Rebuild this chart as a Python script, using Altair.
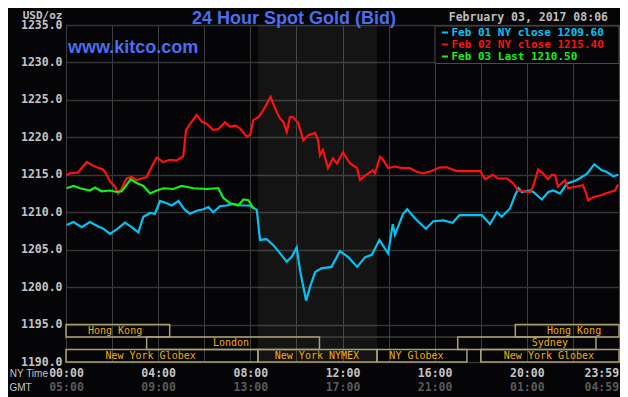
import altair as alt
import pandas as pd

# ---------------- data ----------------
series_labels = ["Feb 01 NY close 1209.60", "Feb 02 NY close 1215.40", "Feb 03 Last 1210.50"]
series_colors = ["#00c4f4", "#ff1010", "#14f014"]

cyan_hours = [0.03, 0.32, 0.68, 1.04, 1.40, 1.62, 1.91, 2.20, 2.56, 2.85, 3.14, 3.36, 3.65, 3.86, 4.08, 4.37,
              4.59, 4.88, 5.16, 5.38, 5.67, 5.96, 6.18, 6.39, 6.68, 6.97, 7.26, 7.62, 7.99, 8.28, 8.42, 8.71,
              9.00, 9.29, 9.58, 9.79, 10.01, 10.16, 10.42, 10.59, 10.81, 11.08, 11.52, 11.89, 12.25, 12.64,
              12.98, 13.27, 13.60, 13.98, 14.18, 14.28, 14.63, 14.81, 15.14, 15.62, 15.94, 16.38, 16.78,
              17.07, 18.05, 18.40, 18.70, 18.91, 19.27, 19.49, 19.64, 19.78, 20.14, 20.28, 20.65, 20.93,
              21.15, 21.44, 21.73, 22.17, 22.60, 22.93, 23.25, 23.46, 23.75, 23.97]
cyan_prices = [1208.3, 1208.7, 1208.0, 1208.7, 1208.1, 1207.8, 1207.1, 1207.7, 1208.6, 1208.0, 1207.3, 1209.4,
               1209.9, 1209.8, 1211.5, 1211.2, 1210.9, 1211.5, 1210.3, 1209.8, 1210.2, 1210.4, 1210.7, 1210.0,
               1210.8, 1210.9, 1211.1, 1210.9, 1210.9, 1210.3, 1206.3, 1206.4, 1205.6, 1204.5, 1203.4, 1204.0,
               1205.3, 1202.2, 1198.2, 1200.0, 1202.0, 1202.5, 1202.7, 1204.8, 1204.0, 1202.7, 1204.0, 1204.3,
               1206.3, 1204.5, 1208.4, 1207.0, 1209.8, 1210.4, 1209.2, 1207.8, 1208.8, 1208.9, 1208.6, 1209.6,
               1209.6, 1208.4, 1210.0, 1209.4, 1210.5, 1212.3, 1213.2, 1212.7, 1212.9, 1212.7, 1211.7, 1212.7,
               1212.9, 1212.5, 1213.8, 1214.3, 1215.1, 1216.4, 1215.6, 1215.4, 1214.8, 1215.0]

red_hours = [0.03, 0.17, 0.52, 0.90, 1.12, 1.33, 1.61, 1.77, 1.91, 2.13, 2.27, 2.42, 2.63, 2.85, 3.07, 3.29,
             3.50, 3.72, 3.94, 4.08, 4.22, 4.51, 4.80, 5.09, 5.21, 5.46, 5.67, 5.89, 6.11, 6.39, 6.61, 6.90,
             7.12, 7.34, 7.55, 7.84, 7.99, 8.13, 8.35, 8.56, 8.88, 9.07, 9.29, 9.43, 9.58, 9.72, 9.85, 10.08,
             10.30, 10.52, 10.81, 10.94, 11.02, 11.15, 11.37, 11.59, 11.76, 12.02, 12.33, 12.63, 12.76, 12.98,
             13.32, 13.41, 13.63, 13.76, 13.98, 14.28, 14.57, 14.93, 15.22, 15.49, 15.87, 16.23, 16.52, 16.96,
             17.97, 18.19, 18.53, 18.75, 19.13, 19.40, 19.62, 20.14, 20.27, 20.49, 20.70, 20.92, 21.08, 21.22,
             21.35, 21.66, 21.79, 22.09, 22.44, 22.53, 22.66, 22.87, 23.25, 23.61, 23.83, 23.96]
red_prices = [1214.95, 1215.2, 1215.3, 1216.7, 1216.3, 1216.0, 1215.7, 1215.0, 1214.1, 1213.4, 1212.5, 1213.2,
              1214.5, 1214.7, 1214.3, 1214.5, 1214.7, 1216.1, 1217.3, 1217.0, 1216.7, 1217.0, 1216.9, 1217.5,
              1221.0, 1222.1, 1223.0, 1222.1, 1221.8, 1221.0, 1221.1, 1222.0, 1221.4, 1221.6, 1221.2, 1220.1,
              1220.3, 1222.3, 1222.7, 1223.6, 1225.4, 1223.9, 1222.5, 1222.1, 1220.7, 1222.7, 1222.7, 1221.9,
              1219.6, 1220.3, 1220.6, 1219.6, 1217.6, 1218.3, 1215.9, 1217.2, 1216.5, 1218.0, 1216.5, 1215.9,
              1214.3, 1214.9, 1215.6, 1215.2, 1217.4, 1217.0, 1215.9, 1216.1, 1215.9, 1215.9, 1215.4, 1215.2,
              1215.5, 1216.0, 1216.0, 1215.5, 1215.5, 1214.4, 1215.0, 1214.5, 1214.5, 1213.9, 1212.9, 1212.7,
              1213.4, 1215.7, 1215.2, 1214.4, 1215.0, 1215.0, 1213.4, 1214.3, 1213.2, 1213.4, 1213.6, 1212.9,
              1211.6, 1212.0, 1212.3, 1212.7, 1212.9, 1213.7]

green_hours = [0.03, 0.32, 0.61, 1.04, 1.26, 1.55, 1.91, 2.20, 2.42, 2.81, 3.07, 3.36, 3.65, 3.94, 4.22, 4.66,
               5.02, 5.53, 6.11, 6.61, 6.83, 7.12, 7.48, 7.70, 7.92, 8.13]
green_prices = [1213.2, 1213.5, 1213.2, 1212.9, 1213.3, 1212.8, 1212.9, 1212.7, 1212.8, 1214.4, 1213.9, 1213.5,
                1212.5, 1212.9, 1213.2, 1213.1, 1213.5, 1213.2, 1213.1, 1213.2, 1211.9, 1211.2, 1210.9, 1211.7,
                1211.6, 1210.5]

session_names = ["Hong Kong", "Hong Kong", "London", "Sydney", "New York Globex", "New York NYMEX",
                 "NY Globex", "New York Globex"]
session_start = [0.0, 19.5, 3.5, 17.0, 0.0, 8.33, 13.5, 18.0]
session_end = [4.5, 24.0, 11.0, 23.0, 8.33, 13.5, 17.4, 24.0]
session_row = [0, 0, 1, 1, 2, 2, 2, 2]
session_label_at = [2.13, 22.05, 7.16, 21.0, 3.67, 10.89, 15.21, 20.96]

price_ticks = [1190, 1195, 1200, 1205, 1210, 1215, 1220, 1225, 1230, 1235]
grid_hours = [0, 2, 4, 6, 8, 10, 12, 14, 16, 18, 20, 22]
tick_hours = [0, 4, 8, 12, 16, 20, 23.983]
ny_labels = ["00:00", "04:00", "08:00", "12:00", "16:00", "20:00", "23:59"]
gmt_labels = ["05:00", "09:00", "13:00", "17:00", "21:00", "01:00", "04:59"]

title_text = "24 Hour Spot Gold (Bid)"
site_text = "www.kitco.com"
date_text = "February 03, 2017 08:06"

# ---------------- styling ----------------
W, H = 553, 337
BG = "#050407"
MONO = "DejaVu Sans Mono"
SANS = "Liberation Sans"
LIGHT = "#c4c4c4"
DIM = "#5a5a5a"
BLUE = "#4a6ef0"
TAN = "#a8a070"
AMBER = "#f0b000"

x_scale = alt.Scale(domain=[0, 24], nice=False, zero=False)
y_scale = alt.Scale(domain=[1190, 1235], nice=False, zero=False)
color_scale = alt.Scale(domain=series_labels, range=series_colors)

y_axis = alt.Axis(
    values=price_ticks, format=".1f", grid=True, gridColor="#363636", gridWidth=1.5,
    ticks=False, domain=False, labelColor=LIGHT, labelFont=MONO, labelFontSize=11.5,
    labelFontWeight="bold", labelPadding=4,
    title="USD/oz", titleAngle=0, titleX=-4, titleY=-7, titleAlign="right",
    titleBaseline="alphabetic", titleColor=LIGHT, titleFont=MONO, titleFontSize=11,
    titleFontWeight="bold")


def label_expr(labels):
    hours_js = "[" + ",".join(str(h) for h in tick_hours) + "]"
    labels_js = "[" + ",".join("'" + s + "'" for s in labels) + "]"
    return labels_js + "[indexof(" + hours_js + ", datum.value)]"


lines_df = pd.concat([
    pd.DataFrame({"hour": cyan_hours, "price": cyan_prices, "series": series_labels[0]}),
    pd.DataFrame({"hour": red_hours, "price": red_prices, "series": series_labels[1]}),
    pd.DataFrame({"hour": green_hours, "price": green_prices, "series": series_labels[2]}),
], ignore_index=True)

sessions_df = pd.DataFrame({
    "name": session_names, "start": session_start, "end": session_end,
    "row": session_row, "label_at": session_label_at,
})

# NYMEX floor session shading (taken from the NYMEX session)
nymex_df = sessions_df[sessions_df["name"] == "New York NYMEX"]
shade = alt.Chart(nymex_df).mark_rect(fill="#9aaa98", opacity=0.1).encode(
    x=alt.X("start:Q", scale=x_scale, axis=None),
    x2="end:Q",
    y=alt.value(0),
    y2=alt.value(H),
)

rows_df = pd.DataFrame({"row": [1, 2]})
row_rules = alt.Chart(rows_df).transform_calculate(
    yb="1195 - datum.row * 5 / 3"
).mark_rule(color="#5c5a48", strokeWidth=1).encode(
    y=alt.Y("yb:Q", scale=y_scale, axis=y_axis)
)

sess_base = alt.Chart(sessions_df).transform_calculate(
    ytop="1195 - datum.row * 5 / 3",
    ybot="1195 - (datum.row + 1) * 5 / 3",
    ymid="1195 - (datum.row + 0.5) * 5 / 3",
)

boxes = sess_base.mark_rect(fillOpacity=0, stroke=TAN, strokeWidth=1.5).encode(
    x=alt.X("start:Q", scale=x_scale, axis=alt.Axis(
        orient="bottom", values=tick_hours, labelExpr=label_expr(ny_labels),
        grid=False, ticks=False, domain=False, labelOverlap=False,
        labelAlign={"condition": {"test": "datum.value > 23", "value": "right"}, "value": "center"},
        labelColor=LIGHT, labelFont=MONO, labelFontSize=11.5, labelFontWeight="bold", labelPadding=5,
        title="NY Time", titleAngle=0, titleX=-18.5, titleY=11, titleAlign="right", titleBaseline="middle",
        titleColor=LIGHT, titleFont=SANS, titleFontSize=10, titleFontWeight="normal")),
    x2="end:Q",
    y=alt.Y("ytop:Q", scale=y_scale, axis=y_axis),
    y2="ybot:Q",
)

sess_text = sess_base.mark_text(color=AMBER, font=MONO, fontSize=10, baseline="middle").encode(
    x=alt.X("label_at:Q", scale=x_scale, axis=alt.Axis(
        orient="bottom", offset=14, values=tick_hours, labelExpr=label_expr(gmt_labels),
        grid=False, ticks=False, domain=False, labelOverlap=False,
        labelAlign={"condition": {"test": "datum.value > 23", "value": "right"}, "value": "center"},
        labelColor=DIM, labelFont=MONO, labelFontSize=11.5, labelFontWeight="bold", labelPadding=5,
        title="GMT", titleAngle=0, titleX=-46, titleY=11, titleAlign="center", titleBaseline="middle",
        titleColor=LIGHT, titleFont=SANS, titleFontSize=10, titleFontWeight="normal")),
    y=alt.Y("ymid:Q", scale=y_scale, axis=y_axis),
    text="name:N",
)

lines = alt.Chart(lines_df).mark_line(strokeWidth=2.2).encode(
    x=alt.X("hour:Q", scale=x_scale, axis=alt.Axis(
        orient="top", values=grid_hours, grid=True, gridColor="#3e3e3e", gridWidth=1,
        labels=False, ticks=False, domain=False, title=None)),
    y=alt.Y("price:Q", scale=y_scale, axis=y_axis),
    color=alt.Color("series:N", scale=color_scale, legend=None),
)

# legend drawn in the top-right box: one row per series
legend_df = pd.DataFrame({"series": series_labels, "idx": [0, 1, 2]})
legend_base = alt.Chart(legend_df).transform_calculate(py="7.5 + datum.idx * 12")

legend_box = alt.Chart(pd.DataFrame({"box": ["legend"]})).mark_rect(
    fill=BG, stroke="#4a4a4a", strokeWidth=1
).encode(x=alt.value(369), x2=alt.value(W), y=alt.value(1), y2=alt.value(38.5))

legend_dash = legend_base.mark_rule(strokeWidth=2).encode(
    x=alt.value(376), x2=alt.value(382),
    y=alt.Y("py:Q", scale=None),
    color=alt.Color("series:N", scale=color_scale, legend=None),
)
legend_text = legend_base.mark_text(
    font=MONO, fontSize=11, fontWeight="bold", align="left", baseline="middle"
).encode(
    x=alt.value(385.5),
    y=alt.Y("py:Q", scale=None),
    text="series:N",
    color=alt.Color("series:N", scale=color_scale, legend=None),
)

title_mark = alt.Chart(pd.DataFrame({"t": [title_text]})).mark_text(
    font=SANS, fontSize=18, fontWeight="bold", color=BLUE, align="center", baseline="alphabetic"
).encode(text="t:N", x=alt.value(228), y=alt.value(-1.5))

site_mark = alt.Chart(pd.DataFrame({"t": [site_text]})).mark_text(
    font=SANS, fontSize=18, fontWeight="bold", color=BLUE, align="left", baseline="alphabetic"
).encode(text="t:N", x=alt.value(2), y=alt.value(28))

date_mark = alt.Chart(pd.DataFrame({"t": [date_text]})).mark_text(
    font=MONO, fontSize=11.5, fontWeight="bold", color="#bdbdbd", align="right", baseline="alphabetic"
).encode(text="t:N", x=alt.value(542), y=alt.value(-4))

chart = alt.layer(
    shade, row_rules, boxes, sess_text, lines, legend_box, legend_dash, legend_text,
    title_mark, site_mark, date_mark
).resolve_axis(x="independent").properties(
    width=W, height=H,
    autosize=alt.AutoSizeParams(type="none"),
    padding={"left": 58, "top": 17, "right": 1, "bottom": 35},
    background=BG,
).configure_view(stroke="#4a4a4a", strokeWidth=1, fill=BG)

chart.save("out.html", embed_options={"renderer": "svg", "actions": False})
